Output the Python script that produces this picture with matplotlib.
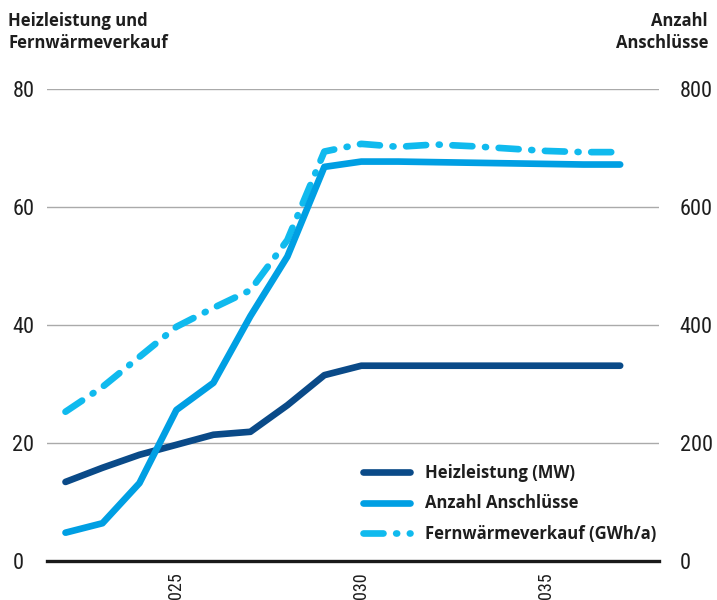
import matplotlib; matplotlib.use('Agg')
import matplotlib.pyplot as plt
from matplotlib.lines import Line2D
from matplotlib import font_manager

# Fernwärme-Ausbau: Heizleistung, Anschlüsse und Wärmeabsatz je Jahr
years = list(range(2022, 2038))
heizleistung = [13.4, 15.8, 18.0, 19.7, 21.4, 21.9, 26.4, 31.5,
                33.1, 33.1, 33.1, 33.1, 33.1, 33.1, 33.1, 33.1]
anschluesse = [48, 64, 132, 256, 302, 415, 516, 668,
               677, 677, 676, 675, 674, 673, 672, 672]
fernwaerme = [25.3, 29.5, 34.6, 39.7, 42.9, 45.9, 54.4, 69.4,
              70.7, 70.2, 70.6, 70.3, 69.9, 69.5, 69.3, 69.3]

left_ticks = [0, 20, 40, 60, 80]
right_ticks = [0, 200, 400, 600, 800]
x_ticks = [2025, 2030, 2035]

DARK, MID, LIGHT = '#0a4a88', '#009fe3', '#10baee'
TEXT = '#1e1e1e'
BOLD = ['Open Sans', 'DejaVu Sans']

# schmale Schrift für die Achsenzahlen, falls vorhanden
installed = {f.name for f in font_manager.fontManager.ttflist}
narrow_names = [n for n in ('Roboto Condensed', 'Liberation Sans Narrow',
                            'Open Sans Condensed', 'DejaVu Sans Condensed')
                if n in installed]
NARROW = narrow_names[:1] + ['DejaVu Sans']
num_font = dict(family=NARROW, stretch='condensed')

W, H = 717, 600
fig = plt.figure(figsize=(W / 100, H / 100), dpi=100)
x0, x1, ytop, ybot = 47, 659, 89, 561
ax = fig.add_axes([x0 / W, 1 - ybot / H, (x1 - x0) / W, (ybot - ytop) / H])
ax2 = ax.twinx()

LW = 4.8
DASH = (0, (3.0, 1.9, 0.15, 1.9))
ax.plot(years, heizleistung, color=DARK, lw=LW, solid_capstyle='round',
        solid_joinstyle='round', clip_on=False, zorder=3)
ax2.plot(years, anschluesse, color=MID, lw=LW, solid_capstyle='round',
         solid_joinstyle='round', clip_on=False, zorder=3)
ax.plot(years, fernwaerme, color=LIGHT, lw=LW, dash_capstyle='round',
        dash_joinstyle='round', linestyle=DASH, clip_on=False, zorder=3)

ax.set_xlim(2021.5, 2038.05)
ax.set_ylim(0, 80)
ax2.set_ylim(0, 800)

for a in (ax, ax2):
    for s in a.spines.values():
        s.set_visible(False)
ax.spines['bottom'].set_visible(True)
ax.spines['bottom'].set_color('#1a1a1a')
ax.spines['bottom'].set_linewidth(2.4)
ax.spines['bottom'].set_zorder(4)

ax.set_yticks(left_ticks)
ax.yaxis.grid(True, color='#aaaaaa', lw=1)
ax.set_axisbelow(True)
ax.tick_params(axis='y', length=0, pad=25)
for lbl in ax.get_yticklabels():
    lbl.set_ha('left')
    lbl.set_fontproperties(font_manager.FontProperties(size=16, **num_font))
    lbl.set_color(TEXT)

ax2.set_yticks(right_ticks)
ax2.tick_params(axis='y', length=0, pad=15)
for lbl in ax2.get_yticklabels():
    lbl.set_fontproperties(font_manager.FontProperties(size=16, **num_font))
    lbl.set_color(TEXT)

# Jahreszahlen stehen senkrecht und laufen unten aus dem Bild
ax.set_xticks(x_ticks)
ax.tick_params(axis='x', length=0, pad=8)
for lbl in ax.get_xticklabels():
    lbl.set_rotation(90)
    lbl.set_va('top')
    lbl.set_fontproperties(font_manager.FontProperties(size=13, **num_font))
    lbl.set_color(TEXT)

fig.text(8 / W, 1 - 12 / H, 'Heizleistung und\nFernwärmeverkauf', ha='left', va='top',
         fontsize=12, fontweight='bold', family=BOLD, color=TEXT, linespacing=1.3)
fig.text(708 / W, 1 - 12 / H, 'Anzahl\nAnschlüsse', ha='right', va='top',
         fontsize=12, fontweight='bold', family=BOLD, color=TEXT, linespacing=1.3)

handles = [
    Line2D([], [], color=DARK, lw=LW, solid_capstyle='round'),
    Line2D([], [], color=MID, lw=LW, solid_capstyle='round'),
    Line2D([], [], color=LIGHT, lw=LW, dash_capstyle='round', linestyle=DASH),
]
labels = ['Heizleistung (MW)', 'Anzahl Anschlüsse', 'Fernwärmeverkauf (GWh/a)']
leg = ax.legend(handles, labels, loc='upper left', frameon=False,
                bbox_to_anchor=(363 / W, 1 - 464 / H), bbox_transform=fig.transFigure,
                borderaxespad=0, borderpad=0, handlelength=2.8, handletextpad=0.9,
                labelspacing=0.75, prop={'family': BOLD, 'weight': 'bold', 'size': 12})
for t in leg.get_texts():
    t.set_color(TEXT)
leg.set_zorder(5)

fig.savefig('out.png', dpi=100)
